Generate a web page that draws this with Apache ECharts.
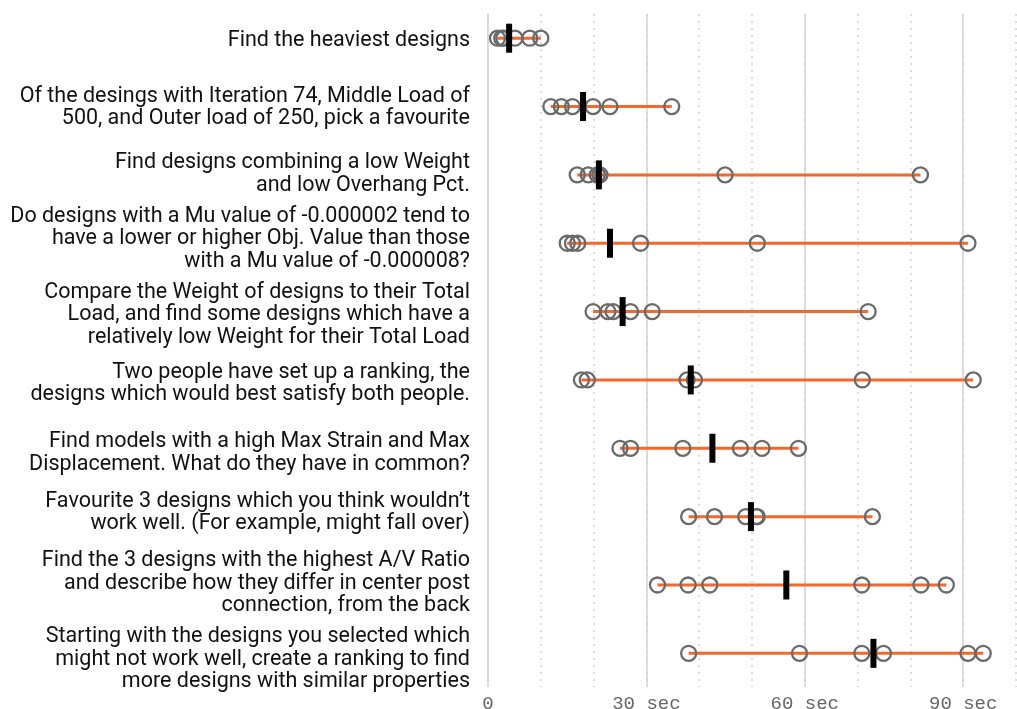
<!DOCTYPE html>
<html>
<head>
<meta charset="utf-8">
<title>Task completion times</title>
<script src="https://cdn.jsdelivr.net/npm/echarts@6/dist/echarts.min.js"></script>
<style>
    html, body { margin: 0; padding: 0; background: #fff; }
    #chart { width: 1017px; height: 709px; }
</style>
</head>
<body>
<div id="chart"></div>
<script>
// task labels (top to bottom)
var tasks = [
    'Find the heaviest designs',
    'Of the desings with Iteration 74, Middle Load of\n500, and Outer load of 250, pick a favourite',
    'Find designs combining a low Weight\nand low Overhang Pct.',
    'Do designs with a Mu value of -0.000002 tend to\nhave a lower or higher Obj. Value than those\nwith a Mu value of -0.000008?',
    'Compare the Weight of designs to their Total\nLoad, and find some designs which have a\nrelatively low Weight for their Total Load',
    'Two people have set up a ranking, the\ndesigns which would best satisfy both people.',
    'Find models with a high Max Strain and Max\nDisplacement. What do they have in common?',
    'Favourite 3 designs which you think wouldn\u2019t\nwork well. (For example, might fall over)',
    'Find the 3 designs with the highest A/V Ratio\nand describe how they differ in center post\nconnection, from the back',
    'Starting with the designs you selected which\nmight not work well, create a ranking to find\nmore designs with similar properties'
];

// seconds per participant, one list per task
var times = [
    [1.8, 2.6, 3.0, 5.1, 7.9, 10.0],
    [11.9, 13.9, 16.0, 19.9, 23.1, 34.8],
    [16.9, 19.0, 20.7, 21.2, 44.9, 81.9],
    [15.0, 16.0, 17.0, 28.9, 51.0, 90.9],
    [19.9, 22.7, 23.7, 27.0, 31.1, 72.0],
    [17.7, 18.8, 37.7, 39.1, 70.9, 91.9],
    [25.0, 27.0, 36.9, 47.8, 51.9, 58.8],
    [38.0, 42.9, 48.8, 50.8, 51.0, 72.8],
    [32.1, 37.9, 42.0, 70.8, 82.0, 86.8],
    [38.0, 59.0, 70.8, 74.9, 90.9, 93.8]
];

// median mark per task
var medians = [4.0, 18.0, 21.0, 23.1, 25.5, 38.4, 42.5, 49.8, 56.5, 73.0];

var xMax = 100;
var tickUnit = 'sec';

(function () {
    'use strict';

    var chart = echarts.init(document.getElementById('chart'), null, { renderer: 'canvas' });

    var ORANGE = '#f4692b';
    var GRID_COLOR = '#d2d2d2';

    // small vertical nudge of each task label (px, + = down),
    // done with an invisible spacer line above or below the text
    var LABEL_NUDGE = [2, 1, -1, -4.5, 3.5, 3.5, 5, -4, -1.5, 6];

    var rich = {};
    LABEL_NUDGE.forEach(function (d, i) {
        rich['g' + i] = { fontSize: 1, lineHeight: Math.max(1, Math.abs(2 * d)) };
    });

    function taskLabel(value, index) {
        var d = LABEL_NUDGE[index] || 0;
        if (!d) return value;
        var gap = '{g' + index + '| }';
        return d > 0 ? gap + '\n' + value : value + '\n' + gap;
    }

    var rangeData = times.map(function (t, i) {
        return [Math.min.apply(null, t), Math.max.apply(null, t), i];
    });

    var pointData = [];
    times.forEach(function (t, i) {
        t.forEach(function (v) { pointData.push([v, i]); });
    });

    var medianData = medians.map(function (m, i) { return [m, i]; });

    var option = {
        animation: false,
        grid: [
            // grid lines + x labels
            { left: 488, right: 1, top: 14, bottom: 22, outerBoundsMode: 'none', containLabel: false },
            // task rows
            { left: 488, right: 1, top: 4, bottom: 21.5, outerBoundsMode: 'none', containLabel: false }
        ],
        xAxis: [
            {
                gridIndex: 0, type: 'value', position: 'bottom', min: 0, max: xMax, interval: 10,
                axisLine: { show: false }, axisTick: { show: false }, axisLabel: { show: false },
                splitLine: { show: true, lineStyle: { color: GRID_COLOR, width: 1.5, type: [2, 5] } }
            },
            {
                gridIndex: 0, type: 'value', position: 'bottom', min: 0, max: xMax, interval: 30,
                axisLine: { show: false }, axisTick: { show: false },
                axisLabel: {
                    showMaxLabel: false,
                    margin: 7,
                    color: '#666',
                    fontFamily: 'Liberation Mono',
                    fontSize: 19,
                    formatter: function (v) { return v === 0 ? '0' : v + ' ' + tickUnit; }
                },
                splitLine: { show: true, showMaxLine: false, lineStyle: { color: GRID_COLOR, width: 1.5 } }
            },
            {
                gridIndex: 1, type: 'value', position: 'bottom', min: 0, max: xMax, show: false
            }
        ],
        yAxis: [
            { gridIndex: 0, type: 'value', show: false },
            {
                gridIndex: 1, type: 'category', inverse: true, data: tasks,
                axisLine: { show: false }, axisTick: { show: false },
                axisLabel: {
                    interval: 0,
                    hideOverlap: false,
                    margin: 18,
                    color: '#111',
                    fontFamily: 'Roboto',
                    fontSize: 21.5,
                    lineHeight: 22.5,
                    align: 'right',
                    formatter: taskLabel,
                    rich: rich
                }
            }
        ],
        series: [
            {
                // min-max range line
                type: 'custom',
                xAxisIndex: 2, yAxisIndex: 1,
                data: rangeData,
                encode: { x: [0, 1], y: 2 },
                renderItem: function (params, api) {
                    var a = api.coord([api.value(0), api.value(2)]);
                    var b = api.coord([api.value(1), api.value(2)]);
                    return {
                        type: 'line',
                        shape: { x1: a[0], y1: a[1], x2: b[0], y2: b[1] },
                        style: { stroke: ORANGE, lineWidth: 3 }
                    };
                },
                z: 1
            },
            {
                type: 'scatter',
                xAxisIndex: 2, yAxisIndex: 1,
                data: pointData,
                symbol: 'circle',
                symbolSize: 15,
                itemStyle: { color: 'rgba(0,0,0,0)', borderColor: '#6a6a6a', borderWidth: 2.3, opacity: 1 },
                z: 2
            },
            {
                type: 'scatter',
                xAxisIndex: 2, yAxisIndex: 1,
                data: medianData,
                symbol: 'rect',
                symbolSize: [6, 29],
                itemStyle: { color: '#000', opacity: 1 },
                z: 3
            }
        ]
    };

    chart.setOption(option);
})();
</script>
</body>
</html>
